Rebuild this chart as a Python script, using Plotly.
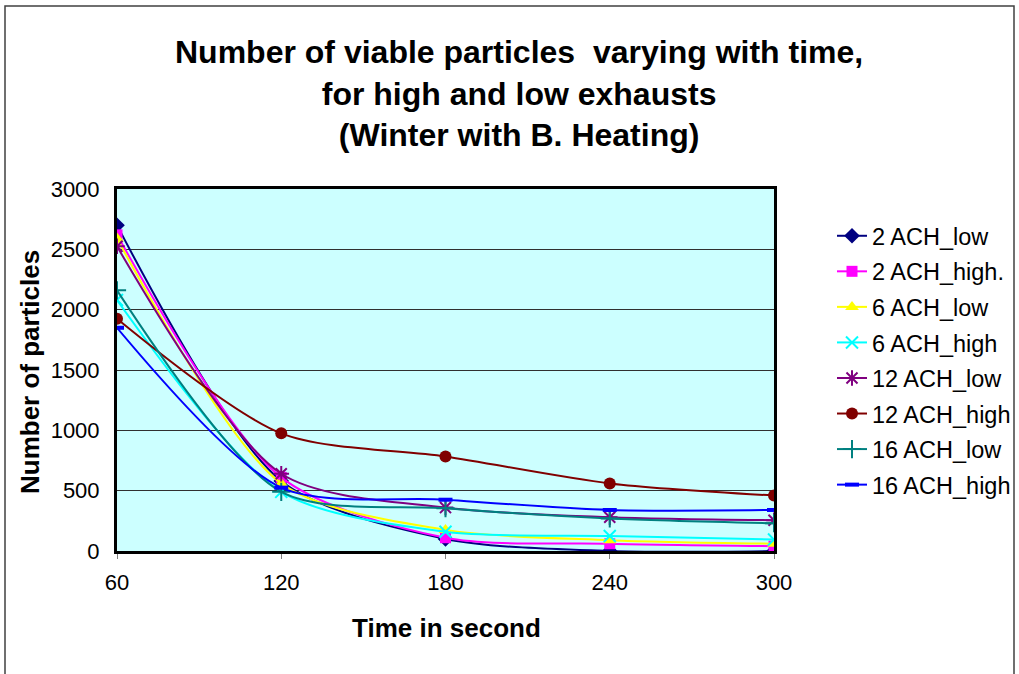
import plotly.graph_objects as go

# Sampling times (s)
time_s = [60, 120, 180, 240, 300]

# Viable particle counts per ventilation case
ach2_low = [2700, 580, 100, 0, 0]
ach2_high = [2620, 610, 110, 60, 40]
ach6_low = [2590, 560, 175, 90, 60]
ach6_high = [2080, 490, 160, 125, 95]
ach12_low = [2525, 640, 360, 280, 255]
ach12_high = [1925, 975, 783, 560, 460]
ach16_low = [2160, 490, 355, 270, 230]
ach16_high = [1850, 525, 425, 340, 340]

series = [
    ("2 ACH_low", ach2_low, "#000080", "diamond", 12, 0),
    ("2 ACH_high.", ach2_high, "#FF00FF", "square", 11, 0),
    ("6 ACH_low", ach6_low, "#FFFF00", "triangle-up", 12, 0),
    ("6 ACH_high", ach6_high, "#00FFFF", "x-thin-open", 12, 2),
    ("12 ACH_low", ach12_low, "#800080", "asterisk-open", 13, 2),
    ("12 ACH_high", ach12_high, "#800000", "circle", 12, 0),
    ("16 ACH_low", ach16_low, "#008080", "cross-thin-open", 13, 2),
    ("16 ACH_high", ach16_high, "#0000FF", "line-ew-open", 10, 4),
]

W, H = 1019, 674
L, R, T, B = 117, 774, 189, 551  # plot area edges in px

fig = go.Figure()
for name, vals, color, sym, size, lw in series:
    marker = dict(symbol=sym, size=size, color=color)
    if lw:
        marker["line"] = dict(color=color, width=lw)
    fig.add_trace(go.Scatter(
        x=time_s, y=vals, name=name, mode="lines+markers",
        line=dict(color=color, width=2, shape="spline", smoothing=0.8),
        marker=marker, legendgroup=name,
    ))

def px_x(p):
    return (p - L) / (R - L)

def px_y(p):
    return (B - p) / (B - T)

fig.update_layout(
    width=W, height=H,
    margin=dict(l=L, r=W - R, t=T, b=H - B, autoexpand=False),
    paper_bgcolor="white",
    plot_bgcolor="#CCFFFF",
    font=dict(family="Liberation Sans, Arial, sans-serif", color="black"),
    xaxis=dict(
        range=[60, 300], tickvals=time_s, ticktext=[str(v) for v in time_s],
        showgrid=False, zeroline=False,
        showline=True, linecolor="black", linewidth=3, mirror=True,
        ticks="outside", ticklen=5, tickcolor="#808080", tickwidth=1,
        tickfont=dict(size=22), ticklabelstandoff=5,
    ),
    yaxis=dict(
        range=[0, 3000], dtick=500,
        showgrid=True, gridcolor="#303030", gridwidth=1, zeroline=False,
        showline=True, linecolor="black", linewidth=3, mirror=True,
        ticks="", tickfont=dict(size=22), ticklabelstandoff=10,
    ),
    legend=dict(
        x=px_x(832), xanchor="left", y=px_y(214), yanchor="top",
        font=dict(size=23.5), bgcolor="rgba(0,0,0,0)",
        tracegroupgap=2, itemwidth=30,
    ),
    showlegend=True,
    annotations=[
        dict(text="<b>Number of viable particles\u00a0 varying with time,<br>for high and low exhausts<br>(Winter with B. Heating)</b>",
             xref="paper", yref="paper", x=px_x(519), y=px_y(94),
             xanchor="center", yanchor="middle", showarrow=False,
             font=dict(size=32)),
        dict(text="<b>Time in second</b>", xref="paper", yref="paper",
             x=px_x(446), y=px_y(628), xanchor="center", yanchor="middle",
             showarrow=False, font=dict(size=26)),
        dict(text="<b>Number of particles</b>", xref="paper", yref="paper",
             x=px_x(30), y=px_y(372), xanchor="center", yanchor="middle",
             textangle=-90, showarrow=False, font=dict(size=26)),
    ],
    shapes=[
        dict(type="rect", xref="paper", yref="paper",
             x0=px_x(5), x1=px_x(1014), y0=px_y(760), y1=px_y(6),
             line=dict(color="#404040", width=1.5), fillcolor="rgba(0,0,0,0)",
             layer="below"),
    ],
)

fig.write_html(
    "out.html",
    post_script="document.body.style.margin='0';document.body.style.overflow='hidden';",
)
